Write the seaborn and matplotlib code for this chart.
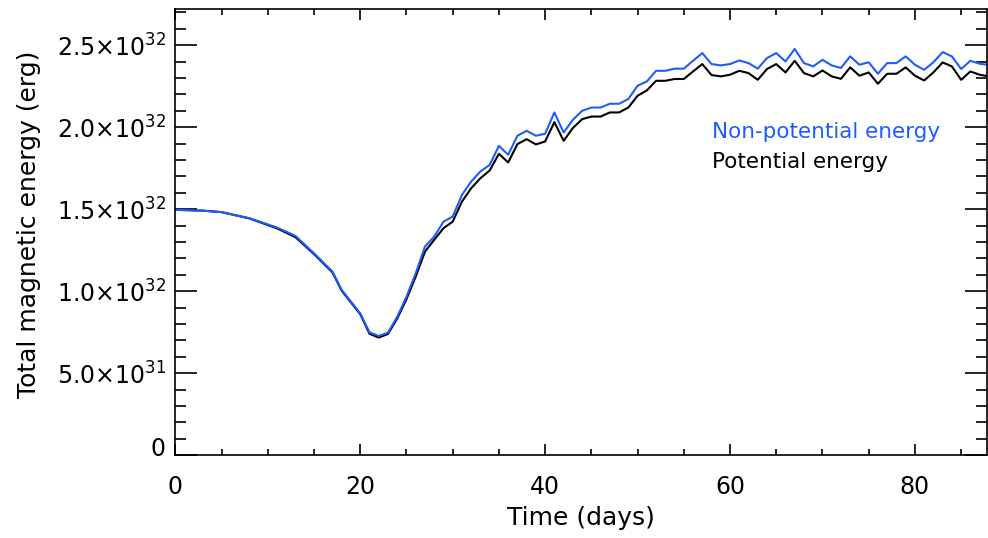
import matplotlib
matplotlib.use("Agg")
import matplotlib.pyplot as plt
import matplotlib.transforms as mtransforms
from matplotlib.ticker import MultipleLocator, FixedLocator, FuncFormatter
import seaborn as sns
import pandas as pd

# Time samples (days)
days = [0, 3, 5, 8, 11, 13, 15, 17, 18, 20, 21, 22, 23, 24, 25, 26,
        27, 28, 29, 30, 31, 32, 33, 34, 35, 36, 37, 38, 39, 40, 41, 42,
        43, 44, 45, 46, 47, 48, 49, 50, 51, 52, 53, 54, 55, 56, 57, 58,
        59, 60, 61, 62, 63, 64, 65, 66, 67, 68, 69, 70, 71, 72, 73, 74,
        75, 76, 77, 78, 79, 80, 81, 82, 83, 84, 85, 86, 87, 88]

# Total magnetic energy, in units of 1e32 erg
non_potential = [1.496, 1.491, 1.482, 1.445, 1.388, 1.337, 1.231, 1.119,
                 1.007, 0.865, 0.749, 0.727, 0.747, 0.844, 0.966, 1.109,
                 1.272, 1.333, 1.424, 1.455, 1.587, 1.669, 1.730, 1.770,
                 1.886, 1.832, 1.948, 1.978, 1.948, 1.960, 2.090, 1.968,
                 2.045, 2.100, 2.120, 2.120, 2.143, 2.143, 2.172, 2.253,
                 2.279, 2.344, 2.344, 2.357, 2.357, 2.405, 2.452, 2.385,
                 2.377, 2.385, 2.407, 2.391, 2.357, 2.422, 2.452, 2.401,
                 2.477, 2.391, 2.371, 2.411, 2.377, 2.361, 2.432, 2.381,
                 2.396, 2.326, 2.391, 2.391, 2.432, 2.381, 2.350, 2.396,
                 2.458, 2.432, 2.355, 2.405, 2.387, 2.380]

potential = [1.496, 1.491, 1.482, 1.444, 1.383, 1.329, 1.226, 1.114,
             1.002, 0.860, 0.740, 0.717, 0.739, 0.834, 0.951, 1.089,
             1.241, 1.313, 1.384, 1.424, 1.546, 1.628, 1.689, 1.736,
             1.838, 1.785, 1.897, 1.927, 1.895, 1.913, 2.031, 1.917,
             1.995, 2.049, 2.065, 2.065, 2.090, 2.090, 2.120, 2.192,
             2.224, 2.283, 2.283, 2.294, 2.294, 2.340, 2.385, 2.318,
             2.310, 2.320, 2.344, 2.330, 2.289, 2.355, 2.385, 2.334,
             2.405, 2.330, 2.310, 2.346, 2.310, 2.295, 2.365, 2.314,
             2.334, 2.265, 2.326, 2.326, 2.365, 2.314, 2.285, 2.334,
             2.395, 2.371, 2.289, 2.340, 2.320, 2.310]

series_names = ["Non-potential energy", "Potential energy"]
series_colors = ["#1f5cff", "#000000"]

y_ticks = [0.0, 0.5, 1.0, 1.5, 2.0, 2.5]
y_tick_labels = ["0", r"$5.0{\times}10^{31}$", r"$1.0{\times}10^{32}$",
                 r"$1.5{\times}10^{32}$", r"$2.0{\times}10^{32}$",
                 r"$2.5{\times}10^{32}$"]

df = pd.DataFrame({
    "day": days * 2,
    "energy": non_potential + potential,
    "kind": [series_names[0]] * len(days) + [series_names[1]] * len(days),
})

sns.set_style("ticks")
plt.rcParams["font.family"] = ["DejaVu Sans"]
plt.rcParams["mathtext.default"] = "regular"

fig = plt.figure(figsize=(9.88, 5.38), dpi=100)
ax = fig.add_axes([0.1775, 0.154, 0.8215, 0.829])

sns.lineplot(data=df, x="day", y="energy", hue="kind",
             hue_order=series_names[::-1],
             palette={series_names[0]: series_colors[0],
                      series_names[1]: series_colors[1]},
             linewidth=1.5, legend=False, ax=ax, sort=False)

ax.set_xlim(0, 87.8)
ax.set_ylim(0, 2.72)

ax.xaxis.set_major_locator(MultipleLocator(20))
ax.xaxis.set_minor_locator(MultipleLocator(5))
ax.yaxis.set_major_locator(FixedLocator(y_ticks))
ax.yaxis.set_minor_locator(MultipleLocator(0.1))
ax.yaxis.set_major_formatter(FuncFormatter(lambda v, p: y_tick_labels[p]))
ax.xaxis.set_major_formatter(FuncFormatter(lambda v, p: f"{int(v)}"))

for side in ["top", "right", "bottom", "left"]:
    ax.spines[side].set_visible(True)
    ax.spines[side].set_linewidth(1.2)
    ax.spines[side].set_color("black")

ax.tick_params(axis="both", which="both", direction="in",
               top=True, right=True, color="black", width=1.2,
               labelsize=17, labelcolor="black")
ax.tick_params(axis="x", which="major", length=8, pad=14)
ax.tick_params(axis="x", which="minor", length=4)
ax.tick_params(axis="y", which="major", length=16, pad=7)
ax.tick_params(axis="y", which="minor", length=8)

ax.set_xlabel("Time (days)", fontsize=18, color="black")
ax.set_ylabel("Total magnetic energy (erg)", fontsize=18, color="black")
ax.xaxis.set_label_coords(0.5, -0.115)
ax.yaxis.set_label_coords(-0.165, 0.518)

ax.text(0.661, 0.710, series_names[0], transform=ax.transAxes,
        color=series_colors[0], fontsize=15.5, va="baseline", ha="left")
ax.text(0.661, 0.6435, series_names[1], transform=ax.transAxes,
        color=series_colors[1], fontsize=15.5, va="baseline", ha="left")

# lift the plain "0" on the energy axis a little, as exponent labels sit lower
fig.canvas.draw()
zero_label = ax.yaxis.get_major_ticks()[0].label1
zero_label.set_transform(zero_label.get_transform() +
                         mtransforms.ScaledTranslation(0, 6 / 72, fig.dpi_scale_trans))

fig.savefig("out.png", dpi=100)
